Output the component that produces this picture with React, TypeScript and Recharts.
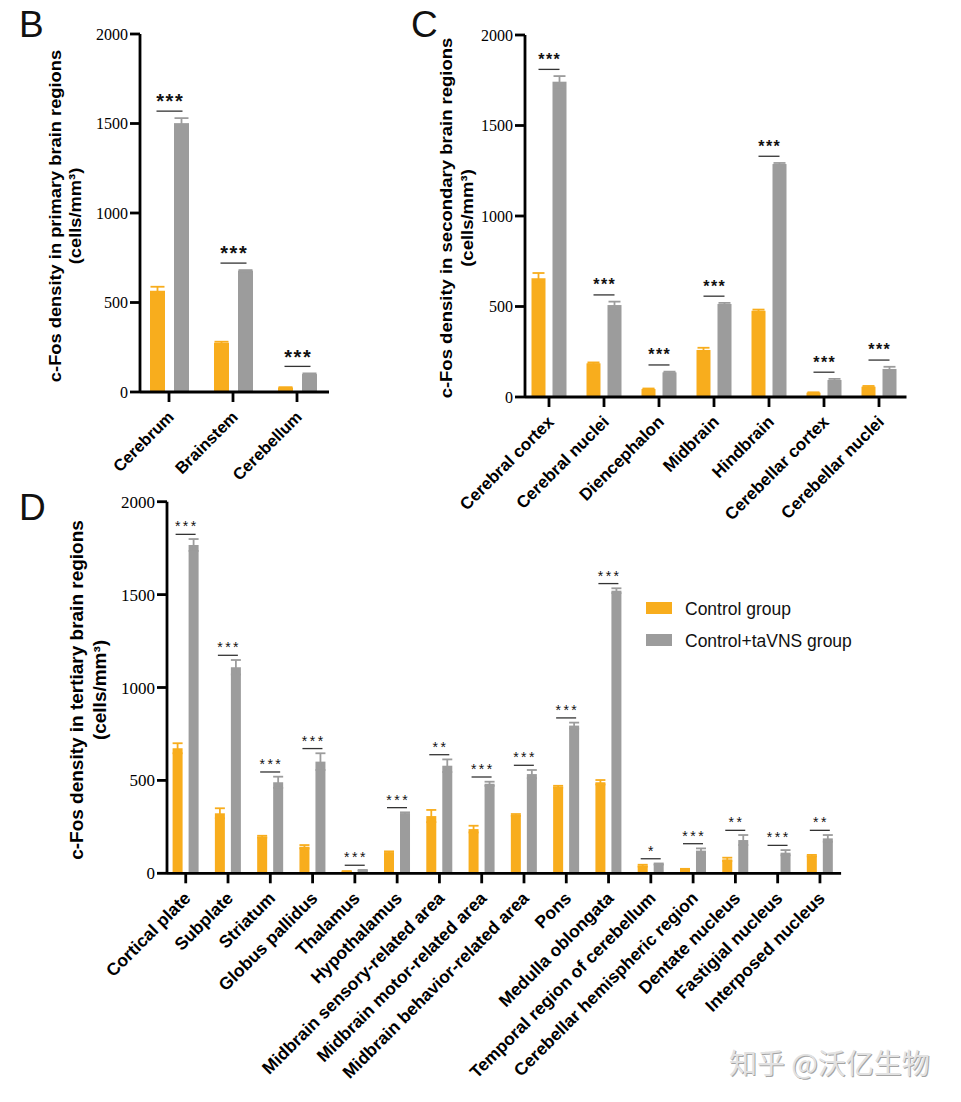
import React from 'react';
import { BarChart, Bar, XAxis, YAxis, ErrorBar, Legend } from 'recharts';

const ORANGE = '#F8AD1D';
const GRAY = '#9C9C9C';
const SANS = "'Liberation Sans', Arial, Helvetica, sans-serif";
const SERIF = "'Liberation Serif', 'Times New Roman', serif";

const yTicks = [0, 500, 1000, 1500, 2000];
const seriesNames = ['Control group', 'Control+taVNS group'];

// Panel B – primary brain regions
const regionsB = ['Cerebrum', 'Brainstem', 'Cerebellum'];
const controlB = [565, 275, 24];
const controlErrB = [23, 6, 3];
const tavnsB = [1502, 677, 100];
const tavnsErrB = [28, 4, 4];
const sigB = ['***', '***', '***'];

// Panel C – secondary brain regions
const regionsC = ['Cerebral cortex', 'Cerebral nuclei', 'Diencephalon', 'Midbrain', 'Hindbrain', 'Cerebellar cortex', 'Cerebellar nuclei'];
const controlC = [656, 186, 44, 260, 477, 24, 57];
const controlErrC = [29, 5, 3, 12, 6, 2, 4];
const tavnsC = [1742, 508, 136, 514, 1287, 94, 155];
const tavnsErrC = [31, 19, 4, 6, 6, 6, 12];
const sigC = ['***', '***', '***', '***', '***', '***', '***'];

// Panel D – tertiary brain regions
const regionsD = [
  'Cortical plate', 'Subplate', 'Striatum', 'Globus pallidus', 'Thalamus', 'Hypothalamus',
  'Midbrain sensory-related area', 'Midbrain motor-related area', 'Midbrain behavior-related area',
  'Pons', 'Medulla oblongata', 'Temporal region of cerebellum', 'Cerebellar hemispheric region',
  'Dentate nucleus', 'Fastigial nucleus', 'Interposed nucleus',
];
const controlD = [673, 323, 197, 143, 10, 113, 308, 238, 314, 466, 490, 41, 21, 75, 0, 95];
const controlErrD = [27, 27, 5, 9, 2, 5, 33, 18, 5, 5, 12, 5, 3, 9, 0, 4];
const tavnsD = [1767, 1109, 490, 601, 16, 323, 579, 482, 534, 795, 1521, 50, 122, 179, 111, 188];
const tavnsErrD = [32, 39, 30, 45, 2, 5, 34, 11, 22, 16, 13, 3, 12, 27, 14, 18];
const sigD = ['***', '***', '***', '***', '***', '***', '**', '***', '***', '***', '***', '*', '***', '**', '***', '**'];

const build = (names: string[], c: number[], ce: number[], t: number[], te: number[], sig: string[]) =>
  names.map((name, i) => ({ name, c: c[i], ce: ce[i], t: t[i], te: te[i], sig: sig[i] }));

const dataB = build(regionsB, controlB, controlErrB, tavnsB, tavnsErrB, sigB);
const dataC = build(regionsC, controlC, controlErrC, tavnsC, tavnsErrC, sigC);
const dataD = build(regionsD, controlD, controlErrD, tavnsD, tavnsErrD, sigD);

type Cfg = {
  data: any[];
  left: number; top: number; width: number; height: number;
  marginTop: number; marginRight: number;
  yAxisWidth: number; xAxisHeight: number; padLeft: number;
  barSize: number; barGap: number; capWidth: number;
  yTickFont: number; xLabelFont: number; xdx: number; xdy: number;
  starFont: number; starSpacing: number; starBase: number; starWeight: string;
  lineOff: number; lineExt: number;
  title: string[]; titleX: number[]; titleY: number; titleFont: number;
  legend?: boolean;
};

const XTick = (props: any) => {
  const { x, y, payload, fontSize, dx0, dy0 } = props;
  return (
    <text
      transform={`translate(${x + dx0},${y + dy0}) rotate(-45)`}
      textAnchor="end"
      fontFamily={SANS}
      fontWeight="bold"
      fontSize={fontSize}
      fill="#000"
    >
      {payload.value}
    </text>
  );
};

const AxisTitle = (props: any) => {
  const { lines, xs, cy, fontSize } = props;
  return (
    <g>
      {lines.map((t: string, i: number) => (
        <text
          key={i}
          transform={`translate(${xs[i]},${cy}) rotate(-90) scale(1,0.93)`}
          textAnchor="middle"
          fontFamily={SANS}
          fontWeight="bold"
          fontSize={fontSize}
          fill="#000"
        >
          {t}
        </text>
      ))}
    </g>
  );
};

const makeGrayShape = (cfg: Cfg) => (props: any) => {
  const { x, y, width, height, index } = props;
  const d = props.payload && props.payload.sig !== undefined ? props.payload : cfg.data[index];
  const scale = d.t > 0 ? height / d.t : 0;
  const errTop = y - d.te * scale;
  const cx = x + width / 2;
  const ox = cx - (cfg.barSize + cfg.barGap);
  const lineY = errTop - cfg.lineOff;
  return (
    <g>
      <rect x={x} y={y} width={width} height={height} fill={GRAY} />
      <line x1={ox - cfg.lineExt} x2={cx + cfg.lineExt} y1={lineY} y2={lineY} stroke="#333" strokeWidth={1.3} />
      <text
        x={(ox + cx) / 2 + cfg.starSpacing / 2}
        y={lineY - cfg.starBase}
        textAnchor="middle"
        fontFamily={SANS}
        fontWeight={cfg.starWeight}
        fontSize={cfg.starFont}
        letterSpacing={cfg.starSpacing}
        fill="#111"
      >
        {d.sig}
      </text>
    </g>
  );
};

const LegendContent = (props: any) => {
  const payload = props.payload || [];
  return (
    <svg width={260} height={60} style={{ display: 'block' }}>
      {payload.map((p: any, i: number) => (
        <g key={i}>
          <rect x={0} y={6 + i * 32} width={26} height={12} fill={p.color} />
          <text x={39} y={18.5 + i * 32} fontFamily={SANS} fontSize={17.5} fill="#111">
            {p.value}
          </text>
        </g>
      ))}
    </svg>
  );
};

const Panel = ({ cfg }: { cfg: Cfg }) => {
  const axisStyle = { stroke: '#000', strokeWidth: 2.8 };
  return (
    <div style={{ position: 'absolute', left: cfg.left, top: cfg.top }}>
      <BarChart
        width={cfg.width}
        height={cfg.height}
        data={cfg.data}
        margin={{ top: cfg.marginTop, right: cfg.marginRight, bottom: 0, left: 0 }}
        barSize={cfg.barSize}
        barGap={cfg.barGap}
      >
        <XAxis
          dataKey="name"
          interval={0}
          height={cfg.xAxisHeight}
          padding={{ left: cfg.padLeft, right: 0 }}
          axisLine={axisStyle}
          tickLine={axisStyle}
          tickSize={10}
          tickMargin={0}
          tick={<XTick fontSize={cfg.xLabelFont} dx0={cfg.xdx} dy0={cfg.xdy} />}
        />
        <YAxis
          width={cfg.yAxisWidth}
          domain={[0, 2000]}
          ticks={yTicks}
          interval={0}
          axisLine={axisStyle}
          tickLine={axisStyle}
          tickSize={10}
          tickMargin={2}
          tick={{ fontFamily: SERIF, fontSize: cfg.yTickFont, fill: '#000' }}
          label={<AxisTitle lines={cfg.title} xs={cfg.titleX} cy={cfg.titleY} fontSize={cfg.titleFont} />}
        />
        {cfg.legend && (
          <Legend
            layout="vertical"
            align="center"
            verticalAlign="middle"
            content={<LegendContent />}
            wrapperStyle={{ left: 646, top: 116, width: 260, height: 60 }}
          />
        )}
        <Bar dataKey="c" name={seriesNames[0]} fill={ORANGE} isAnimationActive={false}>
          <ErrorBar dataKey="ce" width={cfg.capWidth} strokeWidth={1.8} stroke={ORANGE} direction="y" isAnimationActive={false} />
        </Bar>
        <Bar dataKey="t" name={seriesNames[1]} fill={GRAY} isAnimationActive={false} shape={makeGrayShape(cfg)}>
          <ErrorBar dataKey="te" width={cfg.capWidth} strokeWidth={1.8} stroke={GRAY} direction="y" isAnimationActive={false} />
        </Bar>
      </BarChart>
    </div>
  );
};

const cfgB: Cfg = {
  data: dataB, left: 0, top: 0, width: 345, height: 500,
  marginTop: 34, marginRight: 16, yAxisWidth: 140, xAxisHeight: 108, padLeft: -3,
  barSize: 15, barGap: 9, capWidth: 7,
  yTickFont: 16, xLabelFont: 16.5, xdx: 6, xdy: 16,
  starFont: 20, starSpacing: 1.5, starBase: 2.7, starWeight: 'bold', lineOff: 7, lineExt: 1,
  title: ['c-Fos density in primary brain regions', '(cells/mm³)'], titleX: [61, 81], titleY: 216, titleFont: 18.3,
};

const cfgC: Cfg = {
  data: dataC, left: 400, top: 0, width: 520, height: 540,
  marginTop: 35, marginRight: 13.5, yAxisWidth: 125, xAxisHeight: 143, padLeft: -3.5,
  barSize: 14, barGap: 7, capWidth: 6,
  yTickFont: 16, xLabelFont: 17, xdx: 6, xdy: 16,
  starFont: 16, starSpacing: 1.5, starBase: 4.6, starWeight: 'bold', lineOff: 6.7, lineExt: 0,
  title: ['c-Fos density in secondary brain regions', '(cells/mm³)'], titleX: [52, 73], titleY: 218, titleFont: 18.5,
};

const cfgD: Cfg = {
  data: dataD, left: 0, top: 480, width: 870, height: 622,
  marginTop: 21.7, marginRight: 28.9, yAxisWidth: 167, xAxisHeight: 228.7, padLeft: -2.4,
  barSize: 10, barGap: 6, capWidth: 5,
  yTickFont: 17, xLabelFont: 17.5, xdx: 6, xdy: 16,
  starFont: 14, starSpacing: 2.5, starBase: 3, starWeight: 'normal', lineOff: 4.7, lineExt: 2,
  title: ['c-Fos density in tertiary brain regions', '(cells/mm³)'], titleX: [83, 106], titleY: 210, titleFont: 19,
  legend: true,
};

export default function App() {
  return (
    <div style={{ position: 'absolute', left: 0, top: 0, width: 961, height: 1102, background: '#fff', overflow: 'hidden' }}>
      <Panel cfg={cfgB} />
      <Panel cfg={cfgC} />
      <Panel cfg={cfgD} />
      <svg width={961} height={1102} style={{ position: 'absolute', left: 0, top: 0, pointerEvents: 'none' }}>
        <text x={19} y={36.7} fontFamily={SANS} fontSize={37} fill="#111">B</text>
        <text x={411} y={36.7} fontFamily={SANS} fontSize={37} fill="#111">C</text>
        <text x={19} y={520} fontFamily={SANS} fontSize={37} fill="#111">D</text>
        <text x={730} y={1075} fontFamily="'Noto Sans CJK SC', sans-serif" fontSize={28} fill="#a4a4a4">知乎 @沃亿生物</text>
        <text x={729} y={1074} fontFamily="'Noto Sans CJK SC', sans-serif" fontSize={28} fill="#e2e2e2">知乎 @沃亿生物</text>
      </svg>
    </div>
  );
}
